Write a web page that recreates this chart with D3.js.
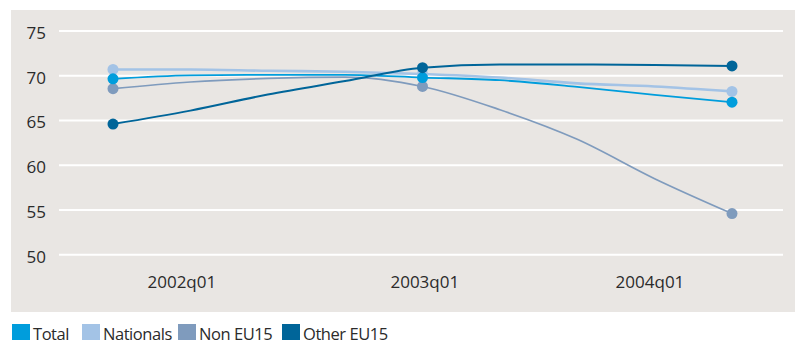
<!DOCTYPE html>
<html><head><meta charset="utf-8">
<script src="https://cdn.jsdelivr.net/npm/d3@7"></script>
<style>
body{margin:0;background:#fff;}
svg{display:block;font-family:"Open Sans",sans-serif;}
</style></head>
<body><svg id="c" width="795" height="345"></svg>
<script>
// quarters 2002q01 .. 2004q01
const quarters = ["2002q01","2002q02","2002q03","2002q04","2003q01","2003q02","2003q03","2003q04","2004q01"];
const total     = [69.65, 70.05, 70.1, 70.1, 69.8, 69.5, 68.75, 67.85, 67.05];
const nationals = [70.7, 70.7, 70.55, 70.45, 70.2, 69.8, 69.15, 68.8, 68.25];
const nonEU15   = [68.55, 69.3, 69.7, 69.85, 68.8, 66.2, 62.9, 58.5, 54.6];
const otherEU15 = [64.6, 66.1, 67.9, 69.4, 70.9, 71.25, 71.25, 71.2, 71.1];
const markerIdx = [0, 4, 8];
const yTicks = [50, 55, 60, 65, 70, 75];
const xTickLabels = ["2002q01", "2003q01", "2004q01"];
const xTickPos = [0.89, 4.03, 6.94];
const seriesNames = ["Total", "Nationals", "Non EU15", "Other EU15"];
const seriesColors = ["#009ddc", "#a3c3e6", "#7f9bbd", "#006599"];

const svg = d3.select("#c");
const x = d3.scaleLinear().domain([0, 8]).range([113, 732]);
const y = d3.scaleLinear().domain([50, 75]).range([254.7, 31]);

svg.append("rect").attr("x", 11).attr("y", 10).attr("width", 784).attr("height", 302).attr("fill", "#e9e6e3");

svg.append("g").selectAll("line").data(yTicks).join("line")
  .attr("x1", 59).attr("x2", 783)
  .attr("y1", d => y(d)).attr("y2", d => y(d))
  .attr("stroke", "#fff").attr("stroke-width", 2);

svg.append("g").selectAll("text").data(yTicks).join("text")
  .attr("x", 46).attr("y", d => y(d) + 2).attr("dy", "0.35em")
  .attr("text-anchor", "end").attr("font-size", 17).attr("fill", "#2b2b2b")
  .text(d => d);

svg.append("g").selectAll("text").data(xTickLabels).join("text")
  .attr("x", (d, i) => x(xTickPos[i])).attr("y", 288)
  .attr("text-anchor", "middle").attr("font-size", 17).attr("fill", "#2b2b2b")
  .text(d => d);

const series = [
  {name: seriesNames[0], values: total, color: seriesColors[0], w: 1.8},
  {name: seriesNames[1], values: nationals, color: seriesColors[1], w: 2.6},
  {name: seriesNames[2], values: nonEU15, color: seriesColors[2], w: 1.7},
  {name: seriesNames[3], values: otherEU15, color: seriesColors[3], w: 2}
];
const drawOrder = [2, 1, 0, 3];
const line = d3.line().x((d, i) => x(i)).y(d => y(d)).curve(d3.curveMonotoneX);

drawOrder.forEach(k => {
  const s = series[k];
  svg.append("path").attr("d", line(s.values)).attr("fill", "none")
    .attr("stroke", s.color).attr("stroke-width", s.w);
});
drawOrder.forEach(k => {
  const s = series[k];
  svg.append("g").selectAll("circle").data(markerIdx).join("circle")
    .attr("cx", i => x(i)).attr("cy", i => y(s.values[i])).attr("r", 5.5)
    .attr("fill", s.color);
});

const legX = [12, 82, 178, 282];
const leg = svg.append("g").selectAll("g").data(series).join("g")
  .attr("transform", (d, i) => `translate(${legX[i]},324)`);
leg.append("rect").attr("width", 18).attr("height", 16).attr("fill", d => d.color);
leg.append("text").attr("x", 21).attr("y", 16).attr("font-size", 16.5)
  .attr("letter-spacing", "-0.45px")
  .attr("fill", "#2b2b2b").text(d => d.name);
</script></body></html>
